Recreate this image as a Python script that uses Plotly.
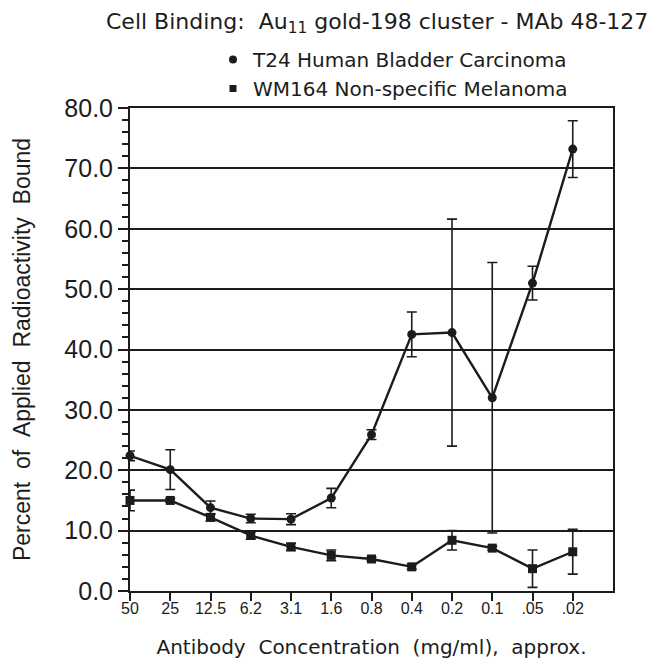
import plotly.graph_objects as go

concentrations = ["50", "25", "12.5", "6.2", "3.1", "1.6", "0.8", "0.4", "0.2", "0.1", ".05", ".02"]

t24_values = [22.4, 20.1, 13.8, 12.0, 11.9, 15.4, 25.9, 42.5, 42.8, 32.0, 51.0, 73.2]
t24_errors = [0.8, 3.3, 1.1, 0.7, 0.9, 1.6, 0.8, 3.7, 18.8, 22.4, 2.8, 4.7]

wm164_values = [15.0, 15.0, 12.2, 9.2, 7.3, 5.9, 5.3, 4.0, 8.4, 7.1, 3.7, 6.5]
wm164_errors = [1.7, 0.3, 0.6, 0.6, 0.6, 0.9, 0.3, 0.4, 1.6, 0.3, 3.1, 3.7]

ink = "#1c1c1c"
sans = "DejaVu Sans"
arial = "Liberation Sans, Arial"

fig = go.Figure()

fig.add_trace(go.Scatter(
    x=concentrations, y=t24_values, mode="lines+markers",
    line=dict(color=ink, width=2.4),
    marker=dict(symbol="circle", size=9, color=ink),
    error_y=dict(type="data", array=t24_errors, visible=True, color=ink, thickness=1.6, width=5),
    showlegend=False, cliponaxis=False,
))
fig.add_trace(go.Scatter(
    x=concentrations, y=wm164_values, mode="lines+markers",
    line=dict(color=ink, width=2.4),
    marker=dict(symbol="square", size=9, color=ink),
    error_y=dict(type="data", array=wm164_errors, visible=True, color=ink, thickness=1.6, width=5),
    showlegend=False, cliponaxis=False,
))

# legend-only entries (marker only, like the reference key)
fig.add_trace(go.Scatter(x=[None], y=[None], mode="markers",
                         marker=dict(symbol="circle", size=8, color=ink),
                         name="T24 Human Bladder Carcinoma"))
fig.add_trace(go.Scatter(x=[None], y=[None], mode="markers",
                         marker=dict(symbol="square", size=7, color=ink),
                         name="WM164 Non-specific Melanoma"))

nb = "\u00a0"
ytitle = (nb * 2).join(["Percent", "of", "Applied", "Radioactivity", "Bound"])
xtitle = (nb * 2).join(["Antibody", "Concentration", "(mg/ml),", "approx."])

fig.update_layout(
    width=656, height=663,
    margin=dict(l=130, r=43, t=108, b=72, autoexpand=False),
    paper_bgcolor="white", plot_bgcolor="white",
    title=dict(
        text="Cell Binding:" + nb * 2 + "Au<sub>11</sub> gold-198 cluster - MAb 48-127",
        font=dict(family=sans, size=22, color=ink),
        x=106 / 656, xanchor="left", y=1 - 21 / 663, yanchor="middle",
    ),
    legend=dict(
        x=(213 - 130) / 483, xanchor="left",
        y=1 + (108 - 40) / 483, yanchor="top",
        font=dict(family=sans, size=20, color=ink),
        bgcolor="rgba(0,0,0,0)", itemwidth=30, tracegroupgap=0,
    ),
    showlegend=True,
)

fig.update_xaxes(
    type="category", categoryorder="array", categoryarray=concentrations,
    range=[0, 12], automargin=False,
    showline=True, linecolor=ink, linewidth=2, mirror=True,
    ticks="outside", ticklen=8, tickwidth=2, tickcolor=ink,
    tickfont=dict(family=arial, size=16, color=ink), ticklabelstandoff=-6,
    showgrid=False, zeroline=False,
    title=dict(text=xtitle, font=dict(family=sans, size=20, color=ink), standoff=24),
)

fig.update_yaxes(
    range=[0, 80], dtick=10, tick0=0, tickformat=".1f", automargin=False,
    showline=True, linecolor=ink, linewidth=2, mirror=True,
    ticks="outside", ticklen=10, tickwidth=2, tickcolor=ink,
    tickfont=dict(family=arial, size=25, color=ink),
    showgrid=True, gridcolor=ink, gridwidth=1.6, zeroline=False,
    minor=dict(dtick=2, ticks="outside", ticklen=6, tickwidth=1.6, tickcolor=ink, showgrid=False),
    title=dict(text=ytitle, font=dict(family=arial, size=23, color=ink), standoff=27),
)

fig.write_html("out.html")
